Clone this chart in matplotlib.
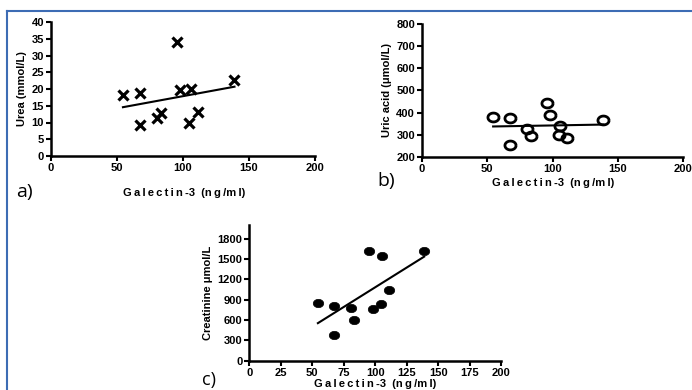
import numpy as np
import matplotlib
matplotlib.use("Agg")
import matplotlib.pyplot as plt
from matplotlib.lines import Line2D

plt.rcParams['font.family'] = ['Liberation Sans', 'DejaVu Sans']

# Galectin-3 (ng/ml) values, shared by all panels
galectin = [54.5, 67.5, 67.5, 80.5, 83.5, 95.5, 98.0, 104.8, 105.8, 111.0, 139.0]
urea = [18.2, 18.9, 9.3, 11.3, 12.7, 34.1, 19.7, 9.9, 20.0, 13.0, 22.7]
uric_acid = [381, 375, 254, 328, 296, 445, 391, 301, 340, 285, 366]
creatinine = [847, 807, 379, 782, 605, 1614, 767, 832, 1540, 1038, 1614]

xticks_ab = [0, 50, 100, 150, 200]
xticks_c = [0, 25, 50, 75, 100, 125, 150, 175, 200]
yticks_a = [0, 5, 10, 15, 20, 25, 30, 35, 40]
yticks_b = [200, 300, 400, 500, 600, 700, 800]
yticks_c = [0, 300, 600, 900, 1200, 1500, 1800]

W, H = 692, 390
fig = plt.figure(figsize=(W / 100, H / 100), dpi=100)

_t = np.linspace(0, 2 * np.pi, 41)
ellipse = list(zip(1.25 * np.cos(_t), np.sin(_t)))


def add_ax(left, top, right, bottom):
    return fig.add_axes([left / W, 1 - bottom / H, (right - left) / W, (bottom - top) / H])


def style(ax, xticks, yticks, xlim, ylim):
    ax.set_xlim(*xlim)
    ax.set_ylim(*ylim)
    ax.set_xticks(xticks)
    ax.set_yticks(yticks)
    for s in ['top', 'right']:
        ax.spines[s].set_visible(False)
    for s in ['left', 'bottom']:
        ax.spines[s].set_linewidth(1.8)
        ax.spines[s].set_color('black')
    ax.tick_params(direction='out', length=3.5, width=1.5, labelsize=8, pad=1.5)
    for lab in ax.get_xticklabels() + ax.get_yticklabels():
        lab.set_fontweight('bold')
    ax.patch.set_alpha(0)


def fit_line(ax, x, y):
    x = np.asarray(x, float)
    y = np.asarray(y, float)
    m, b = np.polyfit(x, y, 1)
    xs = np.array([x.min(), x.max()])
    ax.plot(xs, m * xs + b, color='black', lw=1.5, zorder=2)


xlab_sp = "G\u2009a\u2009l\u2009e\u2009c\u2009t\u2009i\u2009n\u2009-3  (n\u2009g\u2009/m\u2009l)"

# Panel a
axa = add_ax(51, 22, 315, 156)
style(axa, xticks_ab, yticks_a, (0, 200), (0, 40))
axa.plot(galectin, urea, linestyle='none', marker='x', ms=7.5, mew=2.3, color='black', zorder=3)
fit_line(axa, galectin, urea)
axa.set_ylabel("Urea (mmol/L)", fontsize=8, fontweight='bold', labelpad=3)
fig.text(184 / W, 1 - 193 / H, xlab_sp, fontsize=8, fontweight='bold', ha='center', va='center')
fig.text(16 / W, 1 - 192 / H, "a)", fontsize=14, ha='left', va='center', family='Open Sans')

# Panel b
axb = add_ax(422, 23.5, 683, 157.3)
style(axb, xticks_ab, yticks_b, (0, 200), (200, 800))
axb.plot(galectin, uric_acid, linestyle='none', marker=ellipse, ms=8, mew=2.0,
         markerfacecolor='none', color='black', zorder=3)
fit_line(axb, galectin, uric_acid)
axb.set_ylabel("Uric acid (\u03bcmol/L)", fontsize=8, fontweight='bold', labelpad=3)
fig.text(553 / W, 1 - 183 / H, xlab_sp, fontsize=8, fontweight='bold', ha='center', va='center')
fig.text(377 / W, 1 - 181 / H, "b)", fontsize=14, ha='left', va='center', family='Open Sans')

# Panel c
axc = add_ax(249.3, 225, 501, 360.7)
style(axc, xticks_c, yticks_c, (0, 200), (0, 2000))
axc.plot(galectin, creatinine, linestyle='none', marker=ellipse, ms=7.5, mew=0.5,
         color='black', zorder=3)
fit_line(axc, galectin, creatinine)
axc.set_ylabel("Creatinine \u03bcmol/L", fontsize=8, fontweight='bold', labelpad=3)
fig.text(375 / W, 1 - 384 / H, xlab_sp, fontsize=8, fontweight='bold', ha='center', va='center')
fig.text(202 / W, 1 - 380 / H, "c)", fontsize=13, ha='left', va='center', family='Open Sans')

# Blue frame (top and left)
blue = '#3d6cb4'
fig.add_artist(Line2D([7 / W, 1], [1 - 11 / H, 1 - 11 / H], transform=fig.transFigure, color=blue, lw=1.5))
fig.add_artist(Line2D([7 / W, 7 / W], [0, 1 - 11 / H], transform=fig.transFigure, color=blue, lw=1.5))

fig.savefig("out.png", dpi=100)
